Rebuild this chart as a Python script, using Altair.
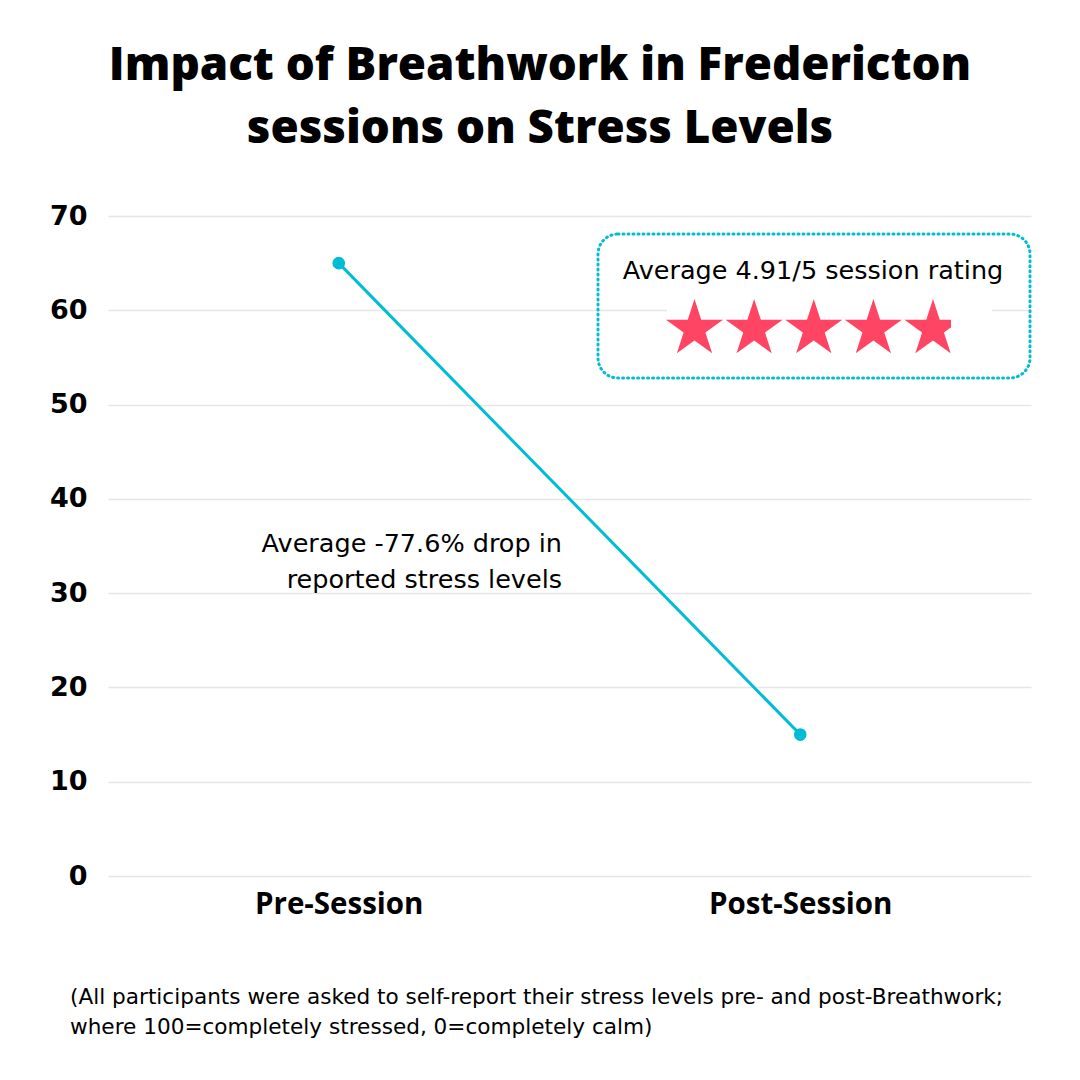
import math
import altair as alt
import pandas as pd

# ---- data ----
sessions = ["Pre-Session", "Post-Session"]
stress = [65, 15]
star_index = [1, 2, 3, 4, 5]
rating_text = "Average 4.91/5 session rating"
drop_text = ["Average -77.6% drop in", "reported stress levels"]
title_lines = ["Impact of Breathwork in Fredericton", "sessions on Stress Levels"]
foot_lines = [
    "(All participants were asked to self-report their stress levels pre- and post-Breathwork;",
    "where 100=completely stressed, 0=completely calm)",
]
y_ticks = [0, 10, 20, 30, 40, 50, 60, 70]

CYAN = "#00BCD4"
RED = "#FF4563"
W, H = 923, 660
FONT = "Open Sans"
BODY = "DejaVu Sans"

df = pd.DataFrame({"session": sessions, "stress": stress})
stars_df = pd.DataFrame({"i": star_index})

# star shape path in [-1, 1] space
pts = []
for k in range(10):
    r = 1.0 if k % 2 == 0 else 0.382
    a = math.radians(-90 + 36 * k)
    pts.append(f"{r*math.cos(a):.4f},{r*math.sin(a):.4f}")
STAR = "M" + "L".join(pts) + "Z"

x_scale = alt.Scale(type="point", padding=0.5)
x_enc = alt.X("session:N", sort=sessions, scale=x_scale,
              axis=alt.Axis(title=None, labelAngle=0, labelFont=FONT, labelFontSize=29.5,
                            labelFontWeight="bold", labelColor="#000", labelPadding=14,
                            labelLimit=500, domain=False, ticks=False, grid=False))
x_enc2 = alt.X("session:N", sort=sessions, scale=x_scale, axis=None)
y_enc = alt.Y("stress:Q", scale=alt.Scale(domain=[0, 70], nice=False),
              axis=alt.Axis(title=None, values=y_ticks, labelFont=BODY, labelFontSize=27,
                            labelFontWeight="bold", labelColor="#000", labelPadding=21,
                            domain=False, ticks=False, grid=True, gridColor="#e6e6e6",
                            gridWidth=1.5))

base = alt.Chart(df)
line = base.mark_line(color=CYAN, strokeWidth=3).encode(x=x_enc, y=y_enc)
pts_layer = base.mark_circle(color=CYAN, size=160, opacity=1).encode(x=x_enc2, y=y_enc)

one = pd.DataFrame({"a": [0]})

def txt(text, x, y, size, align="left", weight="normal", font=BODY):
    return alt.Chart(one).mark_text(
        text=text, align=align, baseline="alphabetic", font=font,
        fontSize=size, fontWeight=weight, color="#000").encode(x=alt.value(x), y=alt.value(y))

title1 = txt(title_lines[0], 432, -136, 45.7, align="center", weight=800, font=FONT)
title2 = txt(title_lines[1], 432, -73, 45.7, align="center", weight=800, font=FONT)
drop1 = txt(drop_text[0], 454, 336, 25.5, align="right")
drop2 = txt(drop_text[1], 454, 372, 25.5, align="right")
foot1 = txt(foot_lines[0], -38, 788, 21.6)
foot2 = txt(foot_lines[1], -38, 818, 21.6)
rate = txt(rating_text, 705, 63, 25.5, align="center")

box = alt.Chart(one).mark_rect(fill="transparent", stroke=CYAN, strokeWidth=3,
                               strokeDash=[1, 4], strokeCap="round", cornerRadius=20).encode(
    x=alt.value(490), x2=alt.value(922), y=alt.value(18), y2=alt.value(162))
white_bg = alt.Chart(one).mark_rect(fill="white").encode(
    x=alt.value(559), x2=alt.value(884), y=alt.value(80), y2=alt.value(141))
stars = alt.Chart(stars_df).mark_point(shape=STAR, filled=True, fill=RED, stroke=None,
                                       size=3600, opacity=1).encode(
    x=alt.X("i:Q", scale=alt.Scale(domain=[1, 5], range=[586.5, 825]), axis=None),
    y=alt.value(113))
clip = alt.Chart(one).mark_rect(fill="white").encode(
    x=alt.value(843), x2=alt.value(884), y=alt.value(80), y2=alt.value(141))

chart = alt.layer(
    line, pts_layer, white_bg, stars, clip, box, rate, drop1, drop2,
    title1, title2, foot1, foot2
).resolve_scale(x="independent").properties(
    width=W, height=H,
    autosize=alt.AutoSizeParams(type="none"),
    padding={"left": 100, "top": 208, "right": 41, "bottom": 190},
    background="white",
).configure_view(stroke=None)

chart.save("out.html", embed_options={"renderer": "svg", "actions": False})
